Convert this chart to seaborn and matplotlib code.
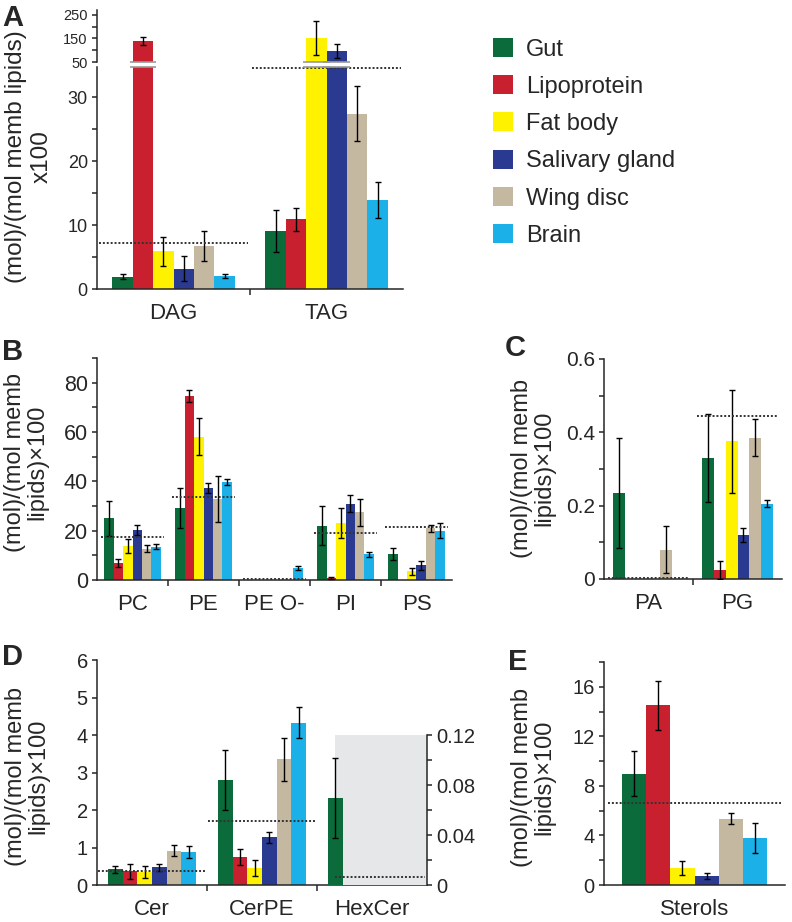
import numpy as np
import pandas as pd
import seaborn as sns
import matplotlib.pyplot as plt
from matplotlib.patches import Patch
from matplotlib.ticker import MultipleLocator, FixedLocator, FuncFormatter

# tissues and colours
tissues = ["Gut", "Lipoprotein", "Fat body", "Salivary gland", "Wing disc", "Brain"]
colors = ["#0b6b3a", "#c8202f", "#fff200", "#2a3a90", "#c4b8a0", "#1cb0e8"]

# A: neutral lipids (broken axis)
a_classes = ["DAG", "TAG"]
a_vals = [[1.9, 140, 5.9, 3.2, 6.7, 2.0],
          [9.1, 10.9, 153, 98, 27.4, 13.9]]
a_errs = [[0.4, 18, 2.3, 1.9, 2.4, 0.3],
          [3.3, 1.8, 73, 30, 4.3, 2.8]]
a_means = [7.2, 34.5]

# B: glycerophospholipids
b_classes = ["PC", "PE", "PE O-", "PI", "PS"]
b_vals = [[25, 6.9, 13.8, 20.3, 12.6, 13.4],
          [29.2, 74.5, 58, 37.3, 33, 39.8],
          [0, 0, 0, 0, 0, 4.7],
          [22, 0.8, 23, 31, 27.5, 10.5],
          [10.5, 0, 3.5, 6, 21, 20]]
b_errs = [[7, 1.7, 3, 2, 1.4, 1],
          [8, 2.5, 7.5, 2, 9.3, 1.2],
          [0, 0, 0, 0, 0, 0.8],
          [8, 0.3, 6, 3.5, 5.5, 1],
          [2.3, 0, 1.5, 1.8, 1.5, 3]]
b_means = [17.3, 33.6, 0.4, 19.2, 21.4]

# C: minor glycerophospholipids
c_classes = ["PA", "PG"]
c_vals = [[0.235, 0, 0, 0, 0.08, 0],
          [0.33, 0.025, 0.375, 0.12, 0.385, 0.205]]
c_errs = [[0.15, 0, 0, 0, 0.065, 0],
          [0.12, 0.025, 0.14, 0.02, 0.05, 0.01]]
c_means = [0.003, 0.445]

# D: sphingolipids (HexCer on right axis)
d_classes = ["Cer", "CerPE", "HexCer"]
d_vals = [[0.42, 0.37, 0.35, 0.47, 0.92, 0.88],
          [2.8, 0.75, 0.45, 1.27, 3.35, 4.33]]
d_errs = [[0.1, 0.2, 0.15, 0.1, 0.15, 0.15],
          [0.8, 0.22, 0.22, 0.15, 0.57, 0.42]]
d_means = [0.37, 1.72]
hexcer_vals = [0.07, 0, 0, 0, 0, 0]
hexcer_errs = [0.032, 0, 0, 0, 0, 0]
hexcer_mean = 0.0065

# E: sterols
e_classes = ["Sterols"]
e_vals = [[9.0, 14.5, 1.35, 0.7, 5.35, 3.8]]
e_errs = [[1.85, 2.0, 0.55, 0.25, 0.45, 1.2]]
e_means = [6.65]

sns.set_style("ticks")
plt.rcParams["font.family"] = ["Liberation Sans", "DejaVu Sans"]
plt.rcParams["axes.linewidth"] = 1.1

W, H = 792, 922
fig = plt.figure(figsize=(W / 100, H / 100), dpi=100)


def px_axes(x0, y0, x1, y1):
    return fig.add_axes([x0 / W, 1 - y1 / H, (x1 - x0) / W, (y1 - y0) / H])


def to_df(classes, vals, errs):
    rows = []
    for c, v, e in zip(classes, vals, errs):
        for t, vv, ee in zip(tissues, v, e):
            rows.append({"cls": c, "tissue": t, "value": vv, "err": ee})
    return pd.DataFrame(rows)


def draw_bars(ax, df, order):
    sns.barplot(data=df, x="cls", y="value", hue="tissue", order=order,
                hue_order=tissues, palette=colors, errorbar=None, legend=False,
                saturation=1, width=0.8, linewidth=0, ax=ax)
    lookup = df.set_index(["cls", "tissue"])
    for cont, t in zip(ax.containers, tissues):
        for bar in cont:
            xc = bar.get_x() + bar.get_width() / 2
            c = order[int(round(xc))]
            if (c, t) not in lookup.index:
                continue
            v, e = lookup.loc[(c, t), ["value", "err"]]
            if e > 0:
                ax.errorbar(xc, v, yerr=e, fmt="none", ecolor="black",
                            elinewidth=1.0, capsize=2.5, capthick=1.0, zorder=4)
    ax.set_xlabel("")
    ax.set_ylabel("")


def mean_lines(ax, means, xs, half=0.48):
    for m, x in zip(means, xs):
        ax.hlines(m, x - half, x + half, colors="#333333", linestyles=(0, (1, 1)),
                  lw=1.4, zorder=5)


def style_x(ax, classes, size=16):
    n = len(classes)
    ax.set_xlim(-0.5, n - 0.5)
    ax.set_xticks(np.arange(n - 1) + 0.5)
    ax.set_xticklabels([])
    ax.set_xticks(np.arange(n), minor=True)
    ax.set_xticklabels(classes, minor=True)
    ax.tick_params(axis="x", which="major", length=4, width=1.1, direction="out")
    ax.tick_params(axis="x", which="minor", length=0, pad=10, labelsize=size)


def zero_fmt(v, p):
    return "0" if abs(v) < 1e-9 else f"{v:g}"


def style_y(ax, major, minor, lim, size):
    ax.set_ylim(*lim)
    ax.yaxis.set_major_locator(MultipleLocator(major))
    ax.yaxis.set_minor_locator(MultipleLocator(minor))
    ax.yaxis.set_major_formatter(FuncFormatter(zero_fmt))
    ax.tick_params(axis="y", which="both", length=3.6, width=1.1, direction="out",
                   labelsize=size, pad=3)
    sns.despine(ax=ax)


def ylab(x, y, text, size=17, ls=1.0):
    fig.text(x / W, 1 - y / H, text, rotation=90, ha="center", va="center",
             multialignment="center", fontsize=size, linespacing=ls)


def letter(x, y, s):
    fig.text(x / W, 1 - y / H, s, fontsize=21, fontweight="bold", ha="left", va="top")


# ---- A ----
df_a = to_df(a_classes, a_vals, a_errs)
axA = px_axes(97, 67, 403, 289)
axA_top = px_axes(97, 10, 403, 62)
draw_bars(axA, df_a, a_classes)
draw_bars(axA_top, df_a, a_classes)
style_x(axA, a_classes)
style_y(axA, 10, 5, (0, 34.7), 13)
mean_lines(axA, a_means, range(2), half=0.49)
axA_top.set_xlim(-0.5, 1.5)
style_y(axA_top, 100, 50, (50, 271), 10.5)
axA_top.yaxis.set_major_locator(FixedLocator([50, 150, 250]))
axA_top.yaxis.set_minor_locator(FixedLocator([100, 200]))
axA_top.spines["bottom"].set_visible(False)
axA_top.set_xticks([])
axA_top.set_xticks([], minor=True)
# break marks on bars running past the lower axis
for bar in axA.patches:
    if bar.get_height() > 34.7:
        x0, w = bar.get_x(), bar.get_width()
        axA.hlines(34.7, x0 - 0.02, x0 + w + 0.02, colors="#999999", lw=1.2, clip_on=False, zorder=6)
        axA_top.hlines(50, x0 - 0.02, x0 + w + 0.02, colors="#999999", lw=1.2, clip_on=False, zorder=6)
ylab(29, 157, "(mol)/(mol memb lipids)\nx100", size=17.5, ls=1.25)
letter(2, 4, "A")

# legend
handles = [Patch(facecolor=c, edgecolor="none") for c in colors]
fig.legend(handles, tissues, loc="upper left", bbox_to_anchor=(493 / W, 1 - 38 / H),
           frameon=False, fontsize=17, handlelength=0.85, handleheight=0.85,
           handletextpad=0.55, labelspacing=0.62, borderpad=0, borderaxespad=0)

# ---- B ----
df_b = to_df(b_classes, b_vals, b_errs)
axB = px_axes(97, 358, 452, 580)
draw_bars(axB, df_b, b_classes)
style_x(axB, b_classes)
style_y(axB, 20, 10, (0, 90), 15.5)
mean_lines(axB, b_means, range(5), half=0.45)
ylab(26, 462, "(mol)/(mol memb\nlipids)×100")
letter(2, 338, "B")

# ---- C ----
df_c = to_df(c_classes, c_vals, c_errs)
axC = px_axes(604, 359, 782, 579)
draw_bars(axC, df_c, c_classes)
style_x(axC, c_classes)
style_y(axC, 0.2, 0.1, (0, 0.6), 15)
mean_lines(axC, c_means, range(2), half=0.45)
ylab(533, 468, "(mol)/(mol memb\nlipids)×100")
letter(505, 334, "C")

# ---- D ----
df_d = to_df(d_classes[:2], d_vals, d_errs)
df_hex = to_df(["HexCer"], [hexcer_vals], [hexcer_errs])
axD = px_axes(97, 660, 427, 885)
axD2 = axD.twinx()
axD2.axvspan(1.66, 2.5, ymin=0, ymax=0.12 / 0.18, color="#e6e7e9", lw=0, zorder=0)
draw_bars(axD, df_d, d_classes)
draw_bars(axD2, df_hex, d_classes)
style_x(axD, d_classes)
style_y(axD, 1, 1, (0, 6), 14.5)
mean_lines(axD, d_means, range(2), half=0.49)
axD2.set_ylim(0, 0.18)
axD2.yaxis.set_major_locator(FixedLocator([0, 0.04, 0.08, 0.12]))
axD2.yaxis.set_minor_locator(FixedLocator([0.02, 0.06, 0.10]))
axD2.yaxis.set_major_formatter(FuncFormatter(zero_fmt))
axD2.tick_params(axis="y", which="both", length=3.6, width=1.1, direction="out",
                 labelsize=14.5, pad=3)
for s in ["top", "left", "bottom"]:
    axD2.spines[s].set_visible(False)
axD2.spines["right"].set_bounds(0, 0.12)
axD2.hlines(hexcer_mean, 1.66, 2.48, colors="#333333", linestyles=(0, (1, 1)), lw=1.4, zorder=5)
axD2.set_xlim(-0.5, 2.5)
axD.set_xlim(-0.5, 2.5)
ylab(27, 776, "(mol)/(mol memb\nlipids)×100")
letter(2, 643, "D")

# ---- E ----
df_e = to_df(e_classes, e_vals, e_errs)
axE = px_axes(604, 662, 785, 885)
draw_bars(axE, df_e, e_classes)
style_x(axE, e_classes)
style_y(axE, 4, 2, (0, 18), 14.5)
mean_lines(axE, e_means, range(1), half=0.48)
ylab(533, 777, "(mol)/(mol memb\nlipids)×100")
letter(508, 648, "E")

fig.savefig("out.png", dpi=100, facecolor="white")
